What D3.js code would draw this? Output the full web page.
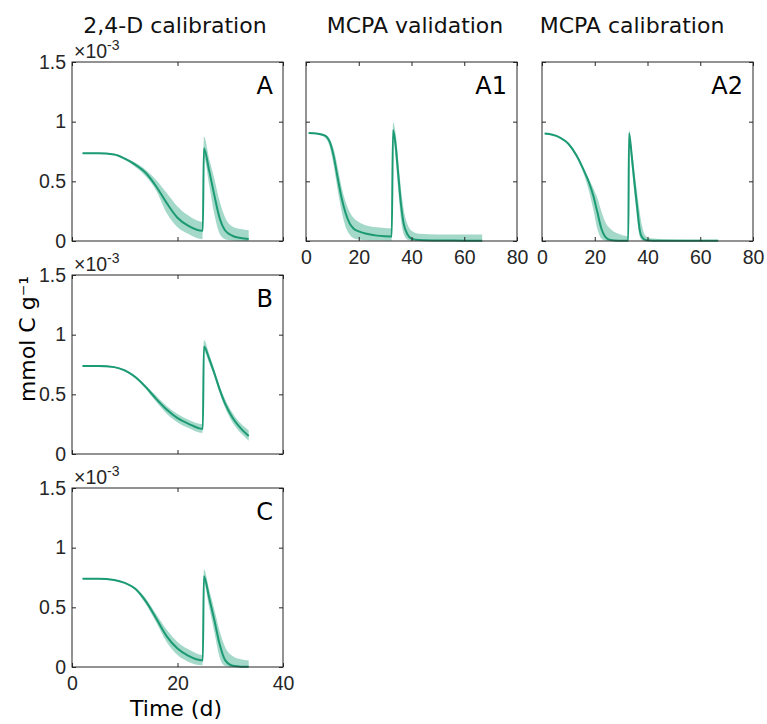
<!DOCTYPE html>
<html>
<head>
<meta charset="utf-8">
<script src="https://cdn.jsdelivr.net/npm/d3@7"></script>
<style>
body { margin: 0; background: #fff; }
svg { display: block; }
</style>
</head>
<body>
<svg id="chart" width="767" height="724"></svg>
<script>
// all concentrations in units of 1e-3 mmol C g^-1
const daysLeft = [2, 5, 8, 10, 12, 14, 16, 18, 20, 22, 24.8, 25, 26, 27, 28, 29, 30.5, 32, 33.5];

const meanA = [0.735, 0.735, 0.725, 0.69, 0.64, 0.57, 0.455, 0.315, 0.195, 0.128, 0.085, 0.777, 0.59, 0.38, 0.19, 0.09, 0.042, 0.025, 0.017];
const hiA   = [0.74, 0.74, 0.73, 0.70, 0.655, 0.595, 0.51, 0.40, 0.29, 0.215, 0.16, 0.875, 0.69, 0.52, 0.33, 0.2, 0.12, 0.1, 0.09];
const loA   = [0.73, 0.73, 0.72, 0.68, 0.62, 0.54, 0.42, 0.23, 0.115, 0.06, 0.015, 0.70, 0.47, 0.22, 0.06, 0.015, 0.005, 0.002, 0];

const meanB = [0.738, 0.737, 0.728, 0.70, 0.645, 0.56, 0.46, 0.37, 0.30, 0.255, 0.21, 0.90, 0.80, 0.675, 0.54, 0.425, 0.30, 0.215, 0.15];
const hiB   = [0.745, 0.744, 0.734, 0.708, 0.656, 0.575, 0.485, 0.40, 0.335, 0.29, 0.25, 0.955, 0.84, 0.705, 0.57, 0.46, 0.34, 0.255, 0.20];
const loB   = [0.731, 0.73, 0.722, 0.692, 0.634, 0.545, 0.435, 0.335, 0.265, 0.22, 0.175, 0.86, 0.76, 0.645, 0.51, 0.39, 0.26, 0.175, 0.11];

const meanC = [0.74, 0.74, 0.73, 0.705, 0.655, 0.55, 0.405, 0.255, 0.155, 0.095, 0.055, 0.76, 0.58, 0.39, 0.19, 0.06, 0.01, 0.003, 0.002];
const hiC   = [0.745, 0.745, 0.735, 0.71, 0.665, 0.575, 0.44, 0.31, 0.21, 0.15, 0.10, 0.82, 0.65, 0.48, 0.30, 0.17, 0.09, 0.065, 0.055];
const loC   = [0.735, 0.735, 0.725, 0.70, 0.645, 0.525, 0.37, 0.205, 0.10, 0.045, 0.015, 0.70, 0.50, 0.29, 0.08, 0.01, 0, 0, 0];

const daysA1 = [1, 4, 7, 9, 10.5, 12, 13.5, 15, 16.5, 18, 20, 23, 27, 32.5, 33, 34, 35, 36, 37, 38.5, 40, 43, 50, 60, 66.8];
const meanA1 = [0.905, 0.90, 0.885, 0.83, 0.71, 0.53, 0.36, 0.235, 0.15, 0.105, 0.08, 0.06, 0.045, 0.038, 0.93, 0.80, 0.55, 0.31, 0.15, 0.055, 0.02, 0.008, 0.004, 0.003, 0.003];
const hiA1   = [0.91, 0.905, 0.895, 0.855, 0.77, 0.62, 0.45, 0.33, 0.245, 0.195, 0.16, 0.13, 0.115, 0.105, 0.99, 0.90, 0.67, 0.44, 0.27, 0.14, 0.085, 0.06, 0.055, 0.055, 0.055];
const loA1   = [0.90, 0.895, 0.87, 0.79, 0.63, 0.43, 0.25, 0.12, 0.055, 0.025, 0.012, 0.006, 0.004, 0.003, 0.87, 0.69, 0.42, 0.18, 0.06, 0.01, 0.002, 0, 0, 0, 0];

const daysA2 = [1, 4, 7, 10, 13, 16, 18, 19.5, 21, 22.5, 24, 26, 29, 32.7, 33, 34, 35, 36, 37, 38, 39.5, 42, 50, 60, 66.8];
const meanA2 = [0.90, 0.89, 0.865, 0.815, 0.72, 0.585, 0.48, 0.375, 0.24, 0.105, 0.035, 0.008, 0.003, 0.002, 0.903, 0.72, 0.50, 0.30, 0.10, 0.03, 0.006, 0.002, 0.002, 0.002, 0.002];
const hiA2   = [0.905, 0.895, 0.87, 0.82, 0.725, 0.595, 0.51, 0.44, 0.36, 0.25, 0.16, 0.10, 0.06, 0.04, 0.93, 0.78, 0.59, 0.42, 0.25, 0.12, 0.04, 0.02, 0.012, 0.01, 0.01];
const loA2   = [0.895, 0.885, 0.86, 0.805, 0.70, 0.55, 0.40, 0.26, 0.10, 0.02, 0.003, 0, 0, 0, 0.85, 0.63, 0.40, 0.20, 0.04, 0.005, 0, 0, 0, 0, 0];

const yTicks = [0, 0.5, 1, 1.5];
const xTicksShort = [0, 20, 40];
const xTicksLong = [0, 20, 40, 60, 80];

const lineColor = "#1b9a73";
const bandColor = "#1b9e77";
const axisColor = "#262626";
const W = 211, H = 179;

const panels = [
  { name: "A",  left: 72,  top: 62,  xmax: 40, xt: xTicksShort, days: daysLeft, mean: meanA,  lo: loA,  hi: hiA,  xLab: false, yLab: true,  title: "2,4-D calibration", titleX: 175 },
  { name: "A1", left: 306, top: 62,  xmax: 80, xt: xTicksLong,  days: daysA1,   mean: meanA1, lo: loA1, hi: hiA1, xLab: true,  yLab: false, title: "MCPA validation",   titleX: 415 },
  { name: "A2", left: 542, top: 62,  xmax: 80, xt: xTicksLong,  days: daysA2,   mean: meanA2, lo: loA2, hi: hiA2, xLab: true,  yLab: false, title: "MCPA calibration",  titleX: 632 },
  { name: "B",  left: 72,  top: 275, xmax: 40, xt: xTicksShort, days: daysLeft, mean: meanB,  lo: loB,  hi: hiB,  xLab: false, yLab: true },
  { name: "C",  left: 72,  top: 488, xmax: 40, xt: xTicksShort, days: daysLeft, mean: meanC,  lo: loC,  hi: hiC,  xLab: true,  yLab: true }
];

const svg = d3.select("#chart");
const sansT = "'Liberation Sans', Arial, Helvetica, sans-serif";
const sansV = "'DejaVu Sans', Verdana, sans-serif";

panels.forEach(p => {
  const x = d3.scaleLinear().domain([0, p.xmax]).range([0, W]);
  const y = d3.scaleLinear().domain([0, 1.5]).range([H, 0]);
  const rows = p.days.map((t, i) => ({ t: t, m: p.mean[i], lo: p.lo[i], hi: p.hi[i] }));

  const g = svg.append("g").attr("transform", `translate(${p.left},${p.top})`);

  // uncertainty band
  g.append("path")
    .datum(rows)
    .attr("fill", bandColor)
    .attr("fill-opacity", 0.4)
    .attr("d", d3.area()
      .x(d => x(d.t))
      .y0(d => y(d.lo))
      .y1(d => y(d.hi))
      .curve(d3.curveMonotoneX));

  // mean line
  g.append("path")
    .datum(rows)
    .attr("fill", "none")
    .attr("stroke", lineColor)
    .attr("stroke-width", 2)
    .attr("d", d3.line()
      .x(d => x(d.t))
      .y(d => y(d.m))
      .curve(d3.curveMonotoneX));

  // axes, ticks pointing inward on all four sides
  const styleAxis = sel => {
    sel.select(".domain").remove();
    sel.selectAll("line").attr("stroke", axisColor);
    sel.selectAll("text").attr("fill", axisColor).style("font-family", sansT).style("font-size", "19.5px");
  };
  g.append("g").attr("transform", `translate(0,${H})`)
    .call(d3.axisBottom(x).tickValues(p.xt).tickSize(-4).tickPadding(9)
      .tickFormat(p.xLab ? (d => d) : () => ""))
    .call(styleAxis);
  g.append("g")
    .call(d3.axisTop(x).tickValues(p.xt).tickSize(-4).tickFormat(() => ""))
    .call(styleAxis);
  g.append("g")
    .call(d3.axisLeft(y).tickValues(yTicks).tickSize(-4).tickPadding(6)
      .tickFormat(p.yLab ? (d => d) : () => ""))
    .call(styleAxis);
  g.append("g").attr("transform", `translate(${W},0)`)
    .call(d3.axisRight(y).tickValues(yTicks).tickSize(-4).tickFormat(() => ""))
    .call(styleAxis);

  g.append("rect")
    .attr("width", W).attr("height", H)
    .attr("fill", "none").attr("stroke", axisColor).attr("stroke-width", 1);

  // exponent label
  if (p.yLab) {
    const ex = g.append("text")
      .attr("x", 2).attr("y", -4)
      .attr("fill", axisColor)
      .style("font-family", sansT).style("font-size", "19.5px");
    ex.append("tspan").text("×10");
    ex.append("tspan").attr("dy", -8).style("font-size", "14px").text("-3");
  }

  // panel letter
  g.append("text")
    .attr("x", W - 10).attr("y", 32)
    .attr("text-anchor", "end")
    .style("font-family", sansV).style("font-size", "24px")
    .attr("fill", "#000")
    .text(p.name);

  if (p.title) {
    svg.append("text")
      .attr("x", p.titleX).attr("y", 33)
      .attr("text-anchor", "middle")
      .style("font-family", sansV).style("font-size", "22px")
      .attr("fill", "#111")
      .text(p.title);
  }
});

svg.append("text")
  .attr("transform", "translate(35,339) rotate(-90)")
  .attr("text-anchor", "middle")
  .style("font-family", sansV).style("font-size", "22px")
  .attr("fill", "#000")
  .text("mmol C g⁻¹");

svg.append("text")
  .attr("x", 176).attr("y", 716)
  .attr("text-anchor", "middle")
  .style("font-family", sansV).style("font-size", "22px")
  .attr("fill", "#000")
  .text("Time (d)");
</script>
</body>
</html>
